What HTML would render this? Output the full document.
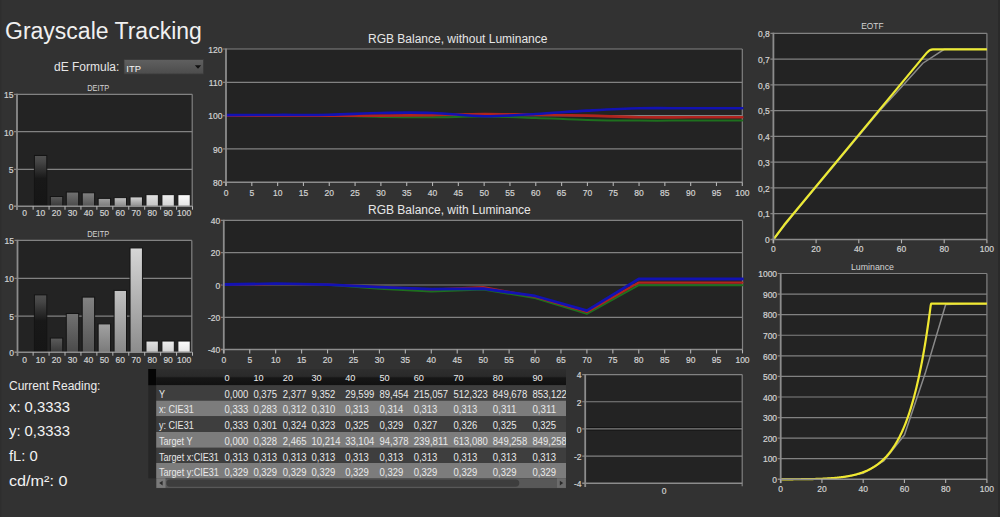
<!DOCTYPE html>
<html><head><meta charset="utf-8"><style>
html,body{margin:0;padding:0;background:#323232;width:1000px;height:517px;overflow:hidden}
svg{display:block;font-family:"Liberation Sans", sans-serif}
</style></head><body>
<svg width="1000" height="517" viewBox="0 0 1000 517">
<rect width="1000" height="517" fill="#323232"/>
<text x="5.00" y="39.00" font-size="23" text-anchor="start" fill="#f0f0f0" >Grayscale Tracking</text>
<text x="54.00" y="71.00" font-size="12" text-anchor="start" fill="#e6e6e6" >dE Formula:</text>
<defs><linearGradient id="dd" x1="0" y1="0" x2="0" y2="1"><stop offset="0" stop-color="#606060"/><stop offset="1" stop-color="#4c4c4c"/></linearGradient></defs>
<rect x="124.00" y="59.60" width="79.50" height="14.40" fill="url(#dd)" stroke="#3a3a3a" stroke-width="0.8"/>
<text x="126.30" y="71.60" font-size="9.4" text-anchor="start" fill="#f4f4f4" >ITP</text>
<path d="M194.8,65.3 L201.2,65.3 L198,68.8 Z" fill="#111"/>
<text transform="translate(98.20,90.80) scale(0.83,1)" font-size="9" text-anchor="middle" fill="#d2d2d2" >DEITP</text>
<rect x="17.00" y="94.30" width="175.20" height="111.90" fill="#232323" />
<line x1="14.00" y1="94.30" x2="192.20" y2="94.30" stroke="#828282" stroke-width="1.2"/>
<line x1="14.00" y1="131.70" x2="192.20" y2="131.70" stroke="#828282" stroke-width="1.2"/>
<line x1="14.00" y1="169.30" x2="192.20" y2="169.30" stroke="#828282" stroke-width="1.2"/>
<line x1="192.20" y1="94.30" x2="192.20" y2="206.20" stroke="#828282" stroke-width="1.2"/>
<text transform="translate(13.40,98.15) scale(0.86,1)" font-size="9.9" text-anchor="end" fill="#d2d2d2" stroke="#d2d2d2" stroke-width="0.22">15</text>
<text transform="translate(13.40,135.55) scale(0.86,1)" font-size="9.9" text-anchor="end" fill="#d2d2d2" stroke="#d2d2d2" stroke-width="0.22">10</text>
<text transform="translate(13.40,173.15) scale(0.86,1)" font-size="9.9" text-anchor="end" fill="#d2d2d2" stroke="#d2d2d2" stroke-width="0.22">5</text>
<text transform="translate(13.40,210.05) scale(0.86,1)" font-size="9.9" text-anchor="end" fill="#d2d2d2" stroke="#d2d2d2" stroke-width="0.22">0</text>
<defs><linearGradient id="g94_1" x1="0" y1="0" x2="0" y2="1"><stop offset="0" stop-color="rgb(80,80,80)"/><stop offset="0.12" stop-color="rgb(70,70,70)"/><stop offset="0.45" stop-color="rgb(24,24,24)"/><stop offset="1" stop-color="rgb(22,22,22)"/></linearGradient></defs>
<rect x="34.40" y="155.47" width="12.40" height="51.03" fill="url(#g94_1)" stroke="#141414" stroke-width="1"/>
<defs><linearGradient id="g94_2" x1="0" y1="0" x2="0" y2="1"><stop offset="0" stop-color="rgb(92,92,92)"/><stop offset="1" stop-color="rgb(56,56,56)"/></linearGradient></defs>
<rect x="50.34" y="196.50" width="12.40" height="10.00" fill="url(#g94_2)" stroke="#141414" stroke-width="1"/>
<defs><linearGradient id="g94_3" x1="0" y1="0" x2="0" y2="1"><stop offset="0" stop-color="rgb(114,114,114)"/><stop offset="1" stop-color="rgb(74,74,74)"/></linearGradient></defs>
<rect x="66.28" y="192.03" width="12.40" height="14.47" fill="url(#g94_3)" stroke="#141414" stroke-width="1"/>
<defs><linearGradient id="g94_4" x1="0" y1="0" x2="0" y2="1"><stop offset="0" stop-color="rgb(130,130,130)"/><stop offset="1" stop-color="rgb(84,84,84)"/></linearGradient></defs>
<rect x="82.22" y="192.77" width="12.40" height="13.73" fill="url(#g94_4)" stroke="#141414" stroke-width="1"/>
<defs><linearGradient id="g94_5" x1="0" y1="0" x2="0" y2="1"><stop offset="0" stop-color="rgb(162,162,162)"/><stop offset="1" stop-color="rgb(122,122,122)"/></linearGradient></defs>
<rect x="98.16" y="198.37" width="12.40" height="8.13" fill="url(#g94_5)" stroke="#141414" stroke-width="1"/>
<defs><linearGradient id="g94_6" x1="0" y1="0" x2="0" y2="1"><stop offset="0" stop-color="rgb(194,194,194)"/><stop offset="1" stop-color="rgb(136,136,136)"/></linearGradient></defs>
<rect x="114.10" y="197.62" width="12.40" height="8.88" fill="url(#g94_6)" stroke="#141414" stroke-width="1"/>
<defs><linearGradient id="g94_7" x1="0" y1="0" x2="0" y2="1"><stop offset="0" stop-color="rgb(214,214,214)"/><stop offset="1" stop-color="rgb(140,140,140)"/></linearGradient></defs>
<rect x="130.04" y="196.88" width="12.40" height="9.62" fill="url(#g94_7)" stroke="#141414" stroke-width="1"/>
<defs><linearGradient id="g94_8" x1="0" y1="0" x2="0" y2="1"><stop offset="0" stop-color="rgb(226,226,226)"/><stop offset="1" stop-color="rgb(196,196,196)"/></linearGradient></defs>
<rect x="145.98" y="194.64" width="12.40" height="11.86" fill="url(#g94_8)" stroke="#141414" stroke-width="1"/>
<defs><linearGradient id="g94_9" x1="0" y1="0" x2="0" y2="1"><stop offset="0" stop-color="rgb(238,238,238)"/><stop offset="1" stop-color="rgb(210,210,210)"/></linearGradient></defs>
<rect x="161.92" y="194.64" width="12.40" height="11.86" fill="url(#g94_9)" stroke="#141414" stroke-width="1"/>
<defs><linearGradient id="g94_10" x1="0" y1="0" x2="0" y2="1"><stop offset="0" stop-color="rgb(252,252,252)"/><stop offset="1" stop-color="rgb(228,228,228)"/></linearGradient></defs>
<rect x="177.86" y="194.64" width="12.40" height="11.86" fill="url(#g94_10)" stroke="#141414" stroke-width="1"/>
<line x1="17.00" y1="93.70" x2="17.00" y2="210.00" stroke="#8c8c8c" stroke-width="1.8"/>
<line x1="14.00" y1="206.20" x2="192.20" y2="206.20" stroke="#8c8c8c" stroke-width="1.5"/>
<line x1="33.13" y1="206.20" x2="33.13" y2="209.70" stroke="#bbb" stroke-width="1"/>
<line x1="49.07" y1="206.20" x2="49.07" y2="209.70" stroke="#bbb" stroke-width="1"/>
<line x1="65.01" y1="206.20" x2="65.01" y2="209.70" stroke="#bbb" stroke-width="1"/>
<line x1="80.95" y1="206.20" x2="80.95" y2="209.70" stroke="#bbb" stroke-width="1"/>
<line x1="96.89" y1="206.20" x2="96.89" y2="209.70" stroke="#bbb" stroke-width="1"/>
<line x1="112.83" y1="206.20" x2="112.83" y2="209.70" stroke="#bbb" stroke-width="1"/>
<line x1="128.77" y1="206.20" x2="128.77" y2="209.70" stroke="#bbb" stroke-width="1"/>
<line x1="144.71" y1="206.20" x2="144.71" y2="209.70" stroke="#bbb" stroke-width="1"/>
<line x1="160.65" y1="206.20" x2="160.65" y2="209.70" stroke="#bbb" stroke-width="1"/>
<line x1="176.59" y1="206.20" x2="176.59" y2="209.70" stroke="#bbb" stroke-width="1"/>
<line x1="192.53" y1="206.20" x2="192.53" y2="209.70" stroke="#bbb" stroke-width="1"/>
<text transform="translate(24.66,216.40) scale(0.86,1)" font-size="9.9" text-anchor="middle" fill="#d2d2d2" stroke="#d2d2d2" stroke-width="0.22">0</text>
<text transform="translate(40.60,216.40) scale(0.86,1)" font-size="9.9" text-anchor="middle" fill="#d2d2d2" stroke="#d2d2d2" stroke-width="0.22">10</text>
<text transform="translate(56.54,216.40) scale(0.86,1)" font-size="9.9" text-anchor="middle" fill="#d2d2d2" stroke="#d2d2d2" stroke-width="0.22">20</text>
<text transform="translate(72.48,216.40) scale(0.86,1)" font-size="9.9" text-anchor="middle" fill="#d2d2d2" stroke="#d2d2d2" stroke-width="0.22">30</text>
<text transform="translate(88.42,216.40) scale(0.86,1)" font-size="9.9" text-anchor="middle" fill="#d2d2d2" stroke="#d2d2d2" stroke-width="0.22">40</text>
<text transform="translate(104.36,216.40) scale(0.86,1)" font-size="9.9" text-anchor="middle" fill="#d2d2d2" stroke="#d2d2d2" stroke-width="0.22">50</text>
<text transform="translate(120.30,216.40) scale(0.86,1)" font-size="9.9" text-anchor="middle" fill="#d2d2d2" stroke="#d2d2d2" stroke-width="0.22">60</text>
<text transform="translate(136.24,216.40) scale(0.86,1)" font-size="9.9" text-anchor="middle" fill="#d2d2d2" stroke="#d2d2d2" stroke-width="0.22">70</text>
<text transform="translate(152.18,216.40) scale(0.86,1)" font-size="9.9" text-anchor="middle" fill="#d2d2d2" stroke="#d2d2d2" stroke-width="0.22">80</text>
<text transform="translate(168.12,216.40) scale(0.86,1)" font-size="9.9" text-anchor="middle" fill="#d2d2d2" stroke="#d2d2d2" stroke-width="0.22">90</text>
<text transform="translate(184.06,216.40) scale(0.86,1)" font-size="9.9" text-anchor="middle" fill="#d2d2d2" stroke="#d2d2d2" stroke-width="0.22">100</text>
<text transform="translate(98.20,237.40) scale(0.83,1)" font-size="9" text-anchor="middle" fill="#d2d2d2" >DEITP</text>
<rect x="17.50" y="240.50" width="174.30" height="111.70" fill="#232323" />
<line x1="14.50" y1="240.40" x2="191.80" y2="240.40" stroke="#828282" stroke-width="1.2"/>
<line x1="14.50" y1="278.40" x2="191.80" y2="278.40" stroke="#828282" stroke-width="1.2"/>
<line x1="14.50" y1="316.20" x2="191.80" y2="316.20" stroke="#828282" stroke-width="1.2"/>
<line x1="191.80" y1="240.50" x2="191.80" y2="352.20" stroke="#828282" stroke-width="1.2"/>
<text transform="translate(13.90,244.25) scale(0.86,1)" font-size="9.9" text-anchor="end" fill="#d2d2d2" stroke="#d2d2d2" stroke-width="0.22">15</text>
<text transform="translate(13.90,282.25) scale(0.86,1)" font-size="9.9" text-anchor="end" fill="#d2d2d2" stroke="#d2d2d2" stroke-width="0.22">10</text>
<text transform="translate(13.90,320.05) scale(0.86,1)" font-size="9.9" text-anchor="end" fill="#d2d2d2" stroke="#d2d2d2" stroke-width="0.22">5</text>
<text transform="translate(13.90,356.05) scale(0.86,1)" font-size="9.9" text-anchor="end" fill="#d2d2d2" stroke="#d2d2d2" stroke-width="0.22">0</text>
<defs><linearGradient id="g240_1" x1="0" y1="0" x2="0" y2="1"><stop offset="0" stop-color="rgb(80,80,80)"/><stop offset="0.12" stop-color="rgb(70,70,70)"/><stop offset="0.45" stop-color="rgb(24,24,24)"/><stop offset="1" stop-color="rgb(22,22,22)"/></linearGradient></defs>
<rect x="34.40" y="294.86" width="12.40" height="57.64" fill="url(#g240_1)" stroke="#141414" stroke-width="1"/>
<defs><linearGradient id="g240_2" x1="0" y1="0" x2="0" y2="1"><stop offset="0" stop-color="rgb(92,92,92)"/><stop offset="1" stop-color="rgb(56,56,56)"/></linearGradient></defs>
<rect x="50.34" y="338.05" width="12.40" height="14.45" fill="url(#g240_2)" stroke="#141414" stroke-width="1"/>
<defs><linearGradient id="g240_3" x1="0" y1="0" x2="0" y2="1"><stop offset="0" stop-color="rgb(114,114,114)"/><stop offset="1" stop-color="rgb(74,74,74)"/></linearGradient></defs>
<rect x="66.28" y="313.48" width="12.40" height="39.02" fill="url(#g240_3)" stroke="#141414" stroke-width="1"/>
<defs><linearGradient id="g240_4" x1="0" y1="0" x2="0" y2="1"><stop offset="0" stop-color="rgb(130,130,130)"/><stop offset="1" stop-color="rgb(84,84,84)"/></linearGradient></defs>
<rect x="82.22" y="297.09" width="12.40" height="55.41" fill="url(#g240_4)" stroke="#141414" stroke-width="1"/>
<defs><linearGradient id="g240_5" x1="0" y1="0" x2="0" y2="1"><stop offset="0" stop-color="rgb(162,162,162)"/><stop offset="1" stop-color="rgb(122,122,122)"/></linearGradient></defs>
<rect x="98.16" y="323.90" width="12.40" height="28.60" fill="url(#g240_5)" stroke="#141414" stroke-width="1"/>
<defs><linearGradient id="g240_6" x1="0" y1="0" x2="0" y2="1"><stop offset="0" stop-color="rgb(194,194,194)"/><stop offset="1" stop-color="rgb(136,136,136)"/></linearGradient></defs>
<rect x="114.10" y="290.39" width="12.40" height="62.11" fill="url(#g240_6)" stroke="#141414" stroke-width="1"/>
<defs><linearGradient id="g240_7" x1="0" y1="0" x2="0" y2="1"><stop offset="0" stop-color="rgb(214,214,214)"/><stop offset="1" stop-color="rgb(140,140,140)"/></linearGradient></defs>
<rect x="130.04" y="247.95" width="12.40" height="104.55" fill="url(#g240_7)" stroke="#141414" stroke-width="1"/>
<defs><linearGradient id="g240_8" x1="0" y1="0" x2="0" y2="1"><stop offset="0" stop-color="rgb(226,226,226)"/><stop offset="1" stop-color="rgb(196,196,196)"/></linearGradient></defs>
<rect x="145.98" y="341.03" width="12.40" height="11.47" fill="url(#g240_8)" stroke="#141414" stroke-width="1"/>
<defs><linearGradient id="g240_9" x1="0" y1="0" x2="0" y2="1"><stop offset="0" stop-color="rgb(238,238,238)"/><stop offset="1" stop-color="rgb(210,210,210)"/></linearGradient></defs>
<rect x="161.92" y="341.03" width="12.40" height="11.47" fill="url(#g240_9)" stroke="#141414" stroke-width="1"/>
<defs><linearGradient id="g240_10" x1="0" y1="0" x2="0" y2="1"><stop offset="0" stop-color="rgb(252,252,252)"/><stop offset="1" stop-color="rgb(228,228,228)"/></linearGradient></defs>
<rect x="177.86" y="341.03" width="12.40" height="11.47" fill="url(#g240_10)" stroke="#141414" stroke-width="1"/>
<line x1="17.50" y1="239.90" x2="17.50" y2="356.00" stroke="#8c8c8c" stroke-width="1.8"/>
<line x1="14.50" y1="352.20" x2="191.80" y2="352.20" stroke="#8c8c8c" stroke-width="1.5"/>
<line x1="33.13" y1="352.20" x2="33.13" y2="355.70" stroke="#bbb" stroke-width="1"/>
<line x1="49.07" y1="352.20" x2="49.07" y2="355.70" stroke="#bbb" stroke-width="1"/>
<line x1="65.01" y1="352.20" x2="65.01" y2="355.70" stroke="#bbb" stroke-width="1"/>
<line x1="80.95" y1="352.20" x2="80.95" y2="355.70" stroke="#bbb" stroke-width="1"/>
<line x1="96.89" y1="352.20" x2="96.89" y2="355.70" stroke="#bbb" stroke-width="1"/>
<line x1="112.83" y1="352.20" x2="112.83" y2="355.70" stroke="#bbb" stroke-width="1"/>
<line x1="128.77" y1="352.20" x2="128.77" y2="355.70" stroke="#bbb" stroke-width="1"/>
<line x1="144.71" y1="352.20" x2="144.71" y2="355.70" stroke="#bbb" stroke-width="1"/>
<line x1="160.65" y1="352.20" x2="160.65" y2="355.70" stroke="#bbb" stroke-width="1"/>
<line x1="176.59" y1="352.20" x2="176.59" y2="355.70" stroke="#bbb" stroke-width="1"/>
<line x1="192.53" y1="352.20" x2="192.53" y2="355.70" stroke="#bbb" stroke-width="1"/>
<text transform="translate(24.66,362.60) scale(0.86,1)" font-size="9.9" text-anchor="middle" fill="#d2d2d2" stroke="#d2d2d2" stroke-width="0.22">0</text>
<text transform="translate(40.60,362.60) scale(0.86,1)" font-size="9.9" text-anchor="middle" fill="#d2d2d2" stroke="#d2d2d2" stroke-width="0.22">10</text>
<text transform="translate(56.54,362.60) scale(0.86,1)" font-size="9.9" text-anchor="middle" fill="#d2d2d2" stroke="#d2d2d2" stroke-width="0.22">20</text>
<text transform="translate(72.48,362.60) scale(0.86,1)" font-size="9.9" text-anchor="middle" fill="#d2d2d2" stroke="#d2d2d2" stroke-width="0.22">30</text>
<text transform="translate(88.42,362.60) scale(0.86,1)" font-size="9.9" text-anchor="middle" fill="#d2d2d2" stroke="#d2d2d2" stroke-width="0.22">40</text>
<text transform="translate(104.36,362.60) scale(0.86,1)" font-size="9.9" text-anchor="middle" fill="#d2d2d2" stroke="#d2d2d2" stroke-width="0.22">50</text>
<text transform="translate(120.30,362.60) scale(0.86,1)" font-size="9.9" text-anchor="middle" fill="#d2d2d2" stroke="#d2d2d2" stroke-width="0.22">60</text>
<text transform="translate(136.24,362.60) scale(0.86,1)" font-size="9.9" text-anchor="middle" fill="#d2d2d2" stroke="#d2d2d2" stroke-width="0.22">70</text>
<text transform="translate(152.18,362.60) scale(0.86,1)" font-size="9.9" text-anchor="middle" fill="#d2d2d2" stroke="#d2d2d2" stroke-width="0.22">80</text>
<text transform="translate(168.12,362.60) scale(0.86,1)" font-size="9.9" text-anchor="middle" fill="#d2d2d2" stroke="#d2d2d2" stroke-width="0.22">90</text>
<text transform="translate(184.06,362.60) scale(0.86,1)" font-size="9.9" text-anchor="middle" fill="#d2d2d2" stroke="#d2d2d2" stroke-width="0.22">100</text>
<text x="368.00" y="42.90" font-size="12" text-anchor="start" fill="#e6e6e6" >RGB Balance, without Luminance</text>
<rect x="226.00" y="49.00" width="516.30" height="133.20" fill="#232323" />
<line x1="223.00" y1="49.00" x2="742.30" y2="49.00" stroke="#828282" stroke-width="1.2"/>
<line x1="223.00" y1="82.30" x2="742.30" y2="82.30" stroke="#828282" stroke-width="1.2"/>
<line x1="223.00" y1="115.60" x2="742.30" y2="115.60" stroke="#828282" stroke-width="1.2"/>
<line x1="223.00" y1="148.90" x2="742.30" y2="148.90" stroke="#828282" stroke-width="1.2"/>
<text transform="translate(222.40,52.75) scale(0.86,1)" font-size="9.9" text-anchor="end" fill="#d2d2d2" stroke="#d2d2d2" stroke-width="0.22">120</text>
<text transform="translate(222.40,86.05) scale(0.86,1)" font-size="9.9" text-anchor="end" fill="#d2d2d2" stroke="#d2d2d2" stroke-width="0.22">110</text>
<text transform="translate(222.40,119.35) scale(0.86,1)" font-size="9.9" text-anchor="end" fill="#d2d2d2" stroke="#d2d2d2" stroke-width="0.22">100</text>
<text transform="translate(222.40,152.65) scale(0.86,1)" font-size="9.9" text-anchor="end" fill="#d2d2d2" stroke="#d2d2d2" stroke-width="0.22">90</text>
<text transform="translate(222.40,185.95) scale(0.86,1)" font-size="9.9" text-anchor="end" fill="#d2d2d2" stroke="#d2d2d2" stroke-width="0.22">80</text>
<line x1="742.30" y1="49.00" x2="742.30" y2="182.20" stroke="#828282" stroke-width="1.2"/>
<path d="M226.00,115.60 C234.60,115.60 260.42,115.57 277.63,115.60 C294.84,115.63 312.05,115.54 329.26,115.77 C346.47,115.99 363.68,116.68 380.89,116.93 C398.10,117.18 415.31,117.32 432.52,117.27 C449.73,117.21 466.94,116.49 484.15,116.60 C501.36,116.71 518.57,117.38 535.78,117.93 C552.99,118.49 570.20,119.48 587.41,119.93 C604.62,120.37 621.83,120.48 639.04,120.59 C656.25,120.71 673.46,120.59 690.67,120.59 C707.88,120.59 733.69,120.59 742.30,120.59" fill="none" stroke="rgb(30,112,30)" stroke-width="2" stroke-linejoin="round" stroke-linecap="round"/>
<path d="M226.00,115.60 C234.60,115.60 260.42,115.60 277.63,115.60 C294.84,115.60 312.05,115.60 329.26,115.60 C346.47,115.60 363.68,115.68 380.89,115.60 C398.10,115.52 415.31,115.38 432.52,115.10 C449.73,114.82 466.94,113.99 484.15,113.93 C501.36,113.88 518.57,114.49 535.78,114.77 C552.99,115.05 570.20,115.18 587.41,115.60 C604.62,116.02 621.83,116.99 639.04,117.27 C656.25,117.54 673.46,117.27 690.67,117.27 C707.88,117.27 733.69,117.27 742.30,117.27" fill="none" stroke="rgb(176,36,30)" stroke-width="2.6" stroke-linejoin="round" stroke-linecap="round"/>
<path d="M226.00,115.10 C234.60,115.07 260.42,114.99 277.63,114.93 C294.84,114.88 312.05,115.10 329.26,114.77 C346.47,114.43 363.68,113.24 380.89,112.94 C398.10,112.63 415.31,112.38 432.52,112.94 C449.73,113.49 466.94,116.10 484.15,116.27 C501.36,116.43 518.57,114.88 535.78,113.93 C552.99,112.99 570.20,111.55 587.41,110.60 C604.62,109.66 621.83,108.66 639.04,108.27 C656.25,107.89 673.46,108.27 690.67,108.27 C707.88,108.27 733.69,108.27 742.30,108.27" fill="none" stroke="rgb(18,18,178)" stroke-width="2.6" stroke-linejoin="round" stroke-linecap="round"/>
<line x1="226.00" y1="48.40" x2="226.00" y2="186.00" stroke="#8c8c8c" stroke-width="1.8"/>
<line x1="223.00" y1="182.20" x2="742.30" y2="182.20" stroke="#8c8c8c" stroke-width="1.5"/>
<line x1="226.00" y1="182.20" x2="226.00" y2="186.00" stroke="#b4b4b4" stroke-width="1.1"/>
<text transform="translate(226.00,195.50) scale(0.86,1)" font-size="9.9" text-anchor="middle" fill="#d2d2d2" stroke="#d2d2d2" stroke-width="0.22">0</text>
<line x1="251.81" y1="182.20" x2="251.81" y2="186.00" stroke="#b4b4b4" stroke-width="1.1"/>
<text transform="translate(251.81,195.50) scale(0.86,1)" font-size="9.9" text-anchor="middle" fill="#d2d2d2" stroke="#d2d2d2" stroke-width="0.22">5</text>
<line x1="277.63" y1="182.20" x2="277.63" y2="186.00" stroke="#b4b4b4" stroke-width="1.1"/>
<text transform="translate(277.63,195.50) scale(0.86,1)" font-size="9.9" text-anchor="middle" fill="#d2d2d2" stroke="#d2d2d2" stroke-width="0.22">10</text>
<line x1="303.44" y1="182.20" x2="303.44" y2="186.00" stroke="#b4b4b4" stroke-width="1.1"/>
<text transform="translate(303.44,195.50) scale(0.86,1)" font-size="9.9" text-anchor="middle" fill="#d2d2d2" stroke="#d2d2d2" stroke-width="0.22">15</text>
<line x1="329.26" y1="182.20" x2="329.26" y2="186.00" stroke="#b4b4b4" stroke-width="1.1"/>
<text transform="translate(329.26,195.50) scale(0.86,1)" font-size="9.9" text-anchor="middle" fill="#d2d2d2" stroke="#d2d2d2" stroke-width="0.22">20</text>
<line x1="355.07" y1="182.20" x2="355.07" y2="186.00" stroke="#b4b4b4" stroke-width="1.1"/>
<text transform="translate(355.07,195.50) scale(0.86,1)" font-size="9.9" text-anchor="middle" fill="#d2d2d2" stroke="#d2d2d2" stroke-width="0.22">25</text>
<line x1="380.89" y1="182.20" x2="380.89" y2="186.00" stroke="#b4b4b4" stroke-width="1.1"/>
<text transform="translate(380.89,195.50) scale(0.86,1)" font-size="9.9" text-anchor="middle" fill="#d2d2d2" stroke="#d2d2d2" stroke-width="0.22">30</text>
<line x1="406.71" y1="182.20" x2="406.71" y2="186.00" stroke="#b4b4b4" stroke-width="1.1"/>
<text transform="translate(406.71,195.50) scale(0.86,1)" font-size="9.9" text-anchor="middle" fill="#d2d2d2" stroke="#d2d2d2" stroke-width="0.22">35</text>
<line x1="432.52" y1="182.20" x2="432.52" y2="186.00" stroke="#b4b4b4" stroke-width="1.1"/>
<text transform="translate(432.52,195.50) scale(0.86,1)" font-size="9.9" text-anchor="middle" fill="#d2d2d2" stroke="#d2d2d2" stroke-width="0.22">40</text>
<line x1="458.33" y1="182.20" x2="458.33" y2="186.00" stroke="#b4b4b4" stroke-width="1.1"/>
<text transform="translate(458.33,195.50) scale(0.86,1)" font-size="9.9" text-anchor="middle" fill="#d2d2d2" stroke="#d2d2d2" stroke-width="0.22">45</text>
<line x1="484.15" y1="182.20" x2="484.15" y2="186.00" stroke="#b4b4b4" stroke-width="1.1"/>
<text transform="translate(484.15,195.50) scale(0.86,1)" font-size="9.9" text-anchor="middle" fill="#d2d2d2" stroke="#d2d2d2" stroke-width="0.22">50</text>
<line x1="509.96" y1="182.20" x2="509.96" y2="186.00" stroke="#b4b4b4" stroke-width="1.1"/>
<text transform="translate(509.96,195.50) scale(0.86,1)" font-size="9.9" text-anchor="middle" fill="#d2d2d2" stroke="#d2d2d2" stroke-width="0.22">55</text>
<line x1="535.78" y1="182.20" x2="535.78" y2="186.00" stroke="#b4b4b4" stroke-width="1.1"/>
<text transform="translate(535.78,195.50) scale(0.86,1)" font-size="9.9" text-anchor="middle" fill="#d2d2d2" stroke="#d2d2d2" stroke-width="0.22">60</text>
<line x1="561.60" y1="182.20" x2="561.60" y2="186.00" stroke="#b4b4b4" stroke-width="1.1"/>
<text transform="translate(561.60,195.50) scale(0.86,1)" font-size="9.9" text-anchor="middle" fill="#d2d2d2" stroke="#d2d2d2" stroke-width="0.22">65</text>
<line x1="587.41" y1="182.20" x2="587.41" y2="186.00" stroke="#b4b4b4" stroke-width="1.1"/>
<text transform="translate(587.41,195.50) scale(0.86,1)" font-size="9.9" text-anchor="middle" fill="#d2d2d2" stroke="#d2d2d2" stroke-width="0.22">70</text>
<line x1="613.23" y1="182.20" x2="613.23" y2="186.00" stroke="#b4b4b4" stroke-width="1.1"/>
<text transform="translate(613.23,195.50) scale(0.86,1)" font-size="9.9" text-anchor="middle" fill="#d2d2d2" stroke="#d2d2d2" stroke-width="0.22">75</text>
<line x1="639.04" y1="182.20" x2="639.04" y2="186.00" stroke="#b4b4b4" stroke-width="1.1"/>
<text transform="translate(639.04,195.50) scale(0.86,1)" font-size="9.9" text-anchor="middle" fill="#d2d2d2" stroke="#d2d2d2" stroke-width="0.22">80</text>
<line x1="664.85" y1="182.20" x2="664.85" y2="186.00" stroke="#b4b4b4" stroke-width="1.1"/>
<text transform="translate(664.85,195.50) scale(0.86,1)" font-size="9.9" text-anchor="middle" fill="#d2d2d2" stroke="#d2d2d2" stroke-width="0.22">85</text>
<line x1="690.67" y1="182.20" x2="690.67" y2="186.00" stroke="#b4b4b4" stroke-width="1.1"/>
<text transform="translate(690.67,195.50) scale(0.86,1)" font-size="9.9" text-anchor="middle" fill="#d2d2d2" stroke="#d2d2d2" stroke-width="0.22">90</text>
<line x1="716.48" y1="182.20" x2="716.48" y2="186.00" stroke="#b4b4b4" stroke-width="1.1"/>
<text transform="translate(716.48,195.50) scale(0.86,1)" font-size="9.9" text-anchor="middle" fill="#d2d2d2" stroke="#d2d2d2" stroke-width="0.22">95</text>
<line x1="742.30" y1="182.20" x2="742.30" y2="186.00" stroke="#b4b4b4" stroke-width="1.1"/>
<text transform="translate(742.30,195.50) scale(0.86,1)" font-size="9.9" text-anchor="middle" fill="#d2d2d2" stroke="#d2d2d2" stroke-width="0.22">100</text>
<text x="368.00" y="213.90" font-size="12" text-anchor="start" fill="#e6e6e6" >RGB Balance, with Luminance</text>
<rect x="223.80" y="220.40" width="518.70" height="129.20" fill="#232323" />
<line x1="220.80" y1="220.40" x2="742.50" y2="220.40" stroke="#828282" stroke-width="1.2"/>
<line x1="220.80" y1="252.70" x2="742.50" y2="252.70" stroke="#828282" stroke-width="1.2"/>
<line x1="220.80" y1="285.00" x2="742.50" y2="285.00" stroke="#828282" stroke-width="1.2"/>
<line x1="220.80" y1="317.30" x2="742.50" y2="317.30" stroke="#828282" stroke-width="1.2"/>
<text transform="translate(220.20,224.15) scale(0.86,1)" font-size="9.9" text-anchor="end" fill="#d2d2d2" stroke="#d2d2d2" stroke-width="0.22">40</text>
<text transform="translate(220.20,256.45) scale(0.86,1)" font-size="9.9" text-anchor="end" fill="#d2d2d2" stroke="#d2d2d2" stroke-width="0.22">20</text>
<text transform="translate(220.20,288.75) scale(0.86,1)" font-size="9.9" text-anchor="end" fill="#d2d2d2" stroke="#d2d2d2" stroke-width="0.22">0</text>
<text transform="translate(220.20,321.05) scale(0.86,1)" font-size="9.9" text-anchor="end" fill="#d2d2d2" stroke="#d2d2d2" stroke-width="0.22">-20</text>
<text transform="translate(220.20,353.35) scale(0.86,1)" font-size="9.9" text-anchor="end" fill="#d2d2d2" stroke="#d2d2d2" stroke-width="0.22">-40</text>
<line x1="742.50" y1="220.40" x2="742.50" y2="349.60" stroke="#828282" stroke-width="1.2"/>
<path d="M223.80,285.00 L275.67,284.19 L327.54,284.68 L379.41,288.71 L431.28,291.46 L483.15,289.52 L535.02,297.92 L586.89,313.91 L638.76,285.16 L690.63,285.16 L742.50,285.16" fill="none" stroke="rgb(30,112,30)" stroke-width="2" stroke-linejoin="round" stroke-linecap="round"/>
<path d="M223.80,285.00 L275.67,284.19 L327.54,284.52 L379.41,286.94 L431.28,289.52 L483.15,287.10 L535.02,296.79 L586.89,311.97 L638.76,282.58 L690.63,282.58 L742.50,282.58" fill="none" stroke="rgb(176,36,30)" stroke-width="2.2" stroke-linejoin="round" stroke-linecap="round"/>
<path d="M223.80,284.52 L275.67,283.71 L327.54,284.68 L379.41,287.10 L431.28,289.04 L483.15,288.71 L535.02,295.98 L586.89,310.68 L638.76,279.02 L690.63,279.02 L742.50,279.02" fill="none" stroke="rgb(18,18,178)" stroke-width="2.8" stroke-linejoin="round" stroke-linecap="round"/>
<line x1="223.80" y1="219.80" x2="223.80" y2="353.40" stroke="#8c8c8c" stroke-width="1.8"/>
<line x1="220.80" y1="349.60" x2="742.50" y2="349.60" stroke="#8c8c8c" stroke-width="1.5"/>
<line x1="223.80" y1="349.60" x2="223.80" y2="353.40" stroke="#b4b4b4" stroke-width="1.1"/>
<text transform="translate(223.80,362.90) scale(0.86,1)" font-size="9.9" text-anchor="middle" fill="#d2d2d2" stroke="#d2d2d2" stroke-width="0.22">0</text>
<line x1="249.74" y1="349.60" x2="249.74" y2="353.40" stroke="#b4b4b4" stroke-width="1.1"/>
<text transform="translate(249.74,362.90) scale(0.86,1)" font-size="9.9" text-anchor="middle" fill="#d2d2d2" stroke="#d2d2d2" stroke-width="0.22">5</text>
<line x1="275.67" y1="349.60" x2="275.67" y2="353.40" stroke="#b4b4b4" stroke-width="1.1"/>
<text transform="translate(275.67,362.90) scale(0.86,1)" font-size="9.9" text-anchor="middle" fill="#d2d2d2" stroke="#d2d2d2" stroke-width="0.22">10</text>
<line x1="301.61" y1="349.60" x2="301.61" y2="353.40" stroke="#b4b4b4" stroke-width="1.1"/>
<text transform="translate(301.61,362.90) scale(0.86,1)" font-size="9.9" text-anchor="middle" fill="#d2d2d2" stroke="#d2d2d2" stroke-width="0.22">15</text>
<line x1="327.54" y1="349.60" x2="327.54" y2="353.40" stroke="#b4b4b4" stroke-width="1.1"/>
<text transform="translate(327.54,362.90) scale(0.86,1)" font-size="9.9" text-anchor="middle" fill="#d2d2d2" stroke="#d2d2d2" stroke-width="0.22">20</text>
<line x1="353.48" y1="349.60" x2="353.48" y2="353.40" stroke="#b4b4b4" stroke-width="1.1"/>
<text transform="translate(353.48,362.90) scale(0.86,1)" font-size="9.9" text-anchor="middle" fill="#d2d2d2" stroke="#d2d2d2" stroke-width="0.22">25</text>
<line x1="379.41" y1="349.60" x2="379.41" y2="353.40" stroke="#b4b4b4" stroke-width="1.1"/>
<text transform="translate(379.41,362.90) scale(0.86,1)" font-size="9.9" text-anchor="middle" fill="#d2d2d2" stroke="#d2d2d2" stroke-width="0.22">30</text>
<line x1="405.35" y1="349.60" x2="405.35" y2="353.40" stroke="#b4b4b4" stroke-width="1.1"/>
<text transform="translate(405.35,362.90) scale(0.86,1)" font-size="9.9" text-anchor="middle" fill="#d2d2d2" stroke="#d2d2d2" stroke-width="0.22">35</text>
<line x1="431.28" y1="349.60" x2="431.28" y2="353.40" stroke="#b4b4b4" stroke-width="1.1"/>
<text transform="translate(431.28,362.90) scale(0.86,1)" font-size="9.9" text-anchor="middle" fill="#d2d2d2" stroke="#d2d2d2" stroke-width="0.22">40</text>
<line x1="457.22" y1="349.60" x2="457.22" y2="353.40" stroke="#b4b4b4" stroke-width="1.1"/>
<text transform="translate(457.22,362.90) scale(0.86,1)" font-size="9.9" text-anchor="middle" fill="#d2d2d2" stroke="#d2d2d2" stroke-width="0.22">45</text>
<line x1="483.15" y1="349.60" x2="483.15" y2="353.40" stroke="#b4b4b4" stroke-width="1.1"/>
<text transform="translate(483.15,362.90) scale(0.86,1)" font-size="9.9" text-anchor="middle" fill="#d2d2d2" stroke="#d2d2d2" stroke-width="0.22">50</text>
<line x1="509.09" y1="349.60" x2="509.09" y2="353.40" stroke="#b4b4b4" stroke-width="1.1"/>
<text transform="translate(509.09,362.90) scale(0.86,1)" font-size="9.9" text-anchor="middle" fill="#d2d2d2" stroke="#d2d2d2" stroke-width="0.22">55</text>
<line x1="535.02" y1="349.60" x2="535.02" y2="353.40" stroke="#b4b4b4" stroke-width="1.1"/>
<text transform="translate(535.02,362.90) scale(0.86,1)" font-size="9.9" text-anchor="middle" fill="#d2d2d2" stroke="#d2d2d2" stroke-width="0.22">60</text>
<line x1="560.95" y1="349.60" x2="560.95" y2="353.40" stroke="#b4b4b4" stroke-width="1.1"/>
<text transform="translate(560.95,362.90) scale(0.86,1)" font-size="9.9" text-anchor="middle" fill="#d2d2d2" stroke="#d2d2d2" stroke-width="0.22">65</text>
<line x1="586.89" y1="349.60" x2="586.89" y2="353.40" stroke="#b4b4b4" stroke-width="1.1"/>
<text transform="translate(586.89,362.90) scale(0.86,1)" font-size="9.9" text-anchor="middle" fill="#d2d2d2" stroke="#d2d2d2" stroke-width="0.22">70</text>
<line x1="612.83" y1="349.60" x2="612.83" y2="353.40" stroke="#b4b4b4" stroke-width="1.1"/>
<text transform="translate(612.83,362.90) scale(0.86,1)" font-size="9.9" text-anchor="middle" fill="#d2d2d2" stroke="#d2d2d2" stroke-width="0.22">75</text>
<line x1="638.76" y1="349.60" x2="638.76" y2="353.40" stroke="#b4b4b4" stroke-width="1.1"/>
<text transform="translate(638.76,362.90) scale(0.86,1)" font-size="9.9" text-anchor="middle" fill="#d2d2d2" stroke="#d2d2d2" stroke-width="0.22">80</text>
<line x1="664.70" y1="349.60" x2="664.70" y2="353.40" stroke="#b4b4b4" stroke-width="1.1"/>
<text transform="translate(664.70,362.90) scale(0.86,1)" font-size="9.9" text-anchor="middle" fill="#d2d2d2" stroke="#d2d2d2" stroke-width="0.22">85</text>
<line x1="690.63" y1="349.60" x2="690.63" y2="353.40" stroke="#b4b4b4" stroke-width="1.1"/>
<text transform="translate(690.63,362.90) scale(0.86,1)" font-size="9.9" text-anchor="middle" fill="#d2d2d2" stroke="#d2d2d2" stroke-width="0.22">90</text>
<line x1="716.57" y1="349.60" x2="716.57" y2="353.40" stroke="#b4b4b4" stroke-width="1.1"/>
<text transform="translate(716.57,362.90) scale(0.86,1)" font-size="9.9" text-anchor="middle" fill="#d2d2d2" stroke="#d2d2d2" stroke-width="0.22">95</text>
<line x1="742.50" y1="349.60" x2="742.50" y2="353.40" stroke="#b4b4b4" stroke-width="1.1"/>
<text transform="translate(742.50,362.90) scale(0.86,1)" font-size="9.9" text-anchor="middle" fill="#d2d2d2" stroke="#d2d2d2" stroke-width="0.22">100</text>
<rect x="585.20" y="374.60" width="157.00" height="108.60" fill="#232323" />
<line x1="582.20" y1="374.60" x2="742.20" y2="374.60" stroke="#828282" stroke-width="1.2"/>
<text transform="translate(581.60,378.35) scale(0.86,1)" font-size="9.9" text-anchor="end" fill="#d2d2d2" stroke="#d2d2d2" stroke-width="0.22">4</text>
<line x1="582.20" y1="401.75" x2="742.20" y2="401.75" stroke="#828282" stroke-width="1.2"/>
<text transform="translate(581.60,405.50) scale(0.86,1)" font-size="9.9" text-anchor="end" fill="#d2d2d2" stroke="#d2d2d2" stroke-width="0.22">2</text>
<line x1="585.20" y1="428.90" x2="742.20" y2="428.90" stroke="#111" stroke-width="3.2"/>
<line x1="582.20" y1="428.90" x2="742.20" y2="428.90" stroke="#828282" stroke-width="1.2"/>
<text transform="translate(581.60,432.65) scale(0.86,1)" font-size="9.9" text-anchor="end" fill="#d2d2d2" stroke="#d2d2d2" stroke-width="0.22">0</text>
<line x1="582.20" y1="456.05" x2="742.20" y2="456.05" stroke="#828282" stroke-width="1.2"/>
<text transform="translate(581.60,459.80) scale(0.86,1)" font-size="9.9" text-anchor="end" fill="#d2d2d2" stroke="#d2d2d2" stroke-width="0.22">-2</text>
<text transform="translate(581.60,486.95) scale(0.86,1)" font-size="9.9" text-anchor="end" fill="#d2d2d2" stroke="#d2d2d2" stroke-width="0.22">-4</text>
<line x1="742.20" y1="374.60" x2="742.20" y2="486.20" stroke="#828282" stroke-width="1.2"/>
<line x1="585.20" y1="374.00" x2="585.20" y2="487.00" stroke="#8c8c8c" stroke-width="1.8"/>
<line x1="582.20" y1="483.20" x2="742.20" y2="483.20" stroke="#8c8c8c" stroke-width="1.5"/>
<text transform="translate(664.00,493.50) scale(0.86,1)" font-size="9.9" text-anchor="middle" fill="#d2d2d2" stroke="#d2d2d2" stroke-width="0.22">0</text>
<text x="872.40" y="28.60" font-size="8.4" text-anchor="middle" fill="#d2d2d2" >EOTF</text>
<rect x="773.40" y="33.30" width="213.50" height="206.20" fill="#232323" />
<text transform="translate(769.80,243.25) scale(0.86,1)" font-size="9.9" text-anchor="end" fill="#d2d2d2" stroke="#d2d2d2" stroke-width="0.22">0</text>
<line x1="770.40" y1="213.72" x2="986.90" y2="213.72" stroke="#828282" stroke-width="1.2"/>
<text transform="translate(769.80,217.47) scale(0.86,1)" font-size="9.9" text-anchor="end" fill="#d2d2d2" stroke="#d2d2d2" stroke-width="0.22">0,1</text>
<line x1="770.40" y1="187.95" x2="986.90" y2="187.95" stroke="#828282" stroke-width="1.2"/>
<text transform="translate(769.80,191.70) scale(0.86,1)" font-size="9.9" text-anchor="end" fill="#d2d2d2" stroke="#d2d2d2" stroke-width="0.22">0,2</text>
<line x1="770.40" y1="162.18" x2="986.90" y2="162.18" stroke="#828282" stroke-width="1.2"/>
<text transform="translate(769.80,165.93) scale(0.86,1)" font-size="9.9" text-anchor="end" fill="#d2d2d2" stroke="#d2d2d2" stroke-width="0.22">0,3</text>
<line x1="770.40" y1="136.40" x2="986.90" y2="136.40" stroke="#828282" stroke-width="1.2"/>
<text transform="translate(769.80,140.15) scale(0.86,1)" font-size="9.9" text-anchor="end" fill="#d2d2d2" stroke="#d2d2d2" stroke-width="0.22">0,4</text>
<line x1="770.40" y1="110.62" x2="986.90" y2="110.62" stroke="#828282" stroke-width="1.2"/>
<text transform="translate(769.80,114.38) scale(0.86,1)" font-size="9.9" text-anchor="end" fill="#d2d2d2" stroke="#d2d2d2" stroke-width="0.22">0,5</text>
<line x1="770.40" y1="84.85" x2="986.90" y2="84.85" stroke="#828282" stroke-width="1.2"/>
<text transform="translate(769.80,88.60) scale(0.86,1)" font-size="9.9" text-anchor="end" fill="#d2d2d2" stroke="#d2d2d2" stroke-width="0.22">0,6</text>
<line x1="770.40" y1="59.08" x2="986.90" y2="59.08" stroke="#828282" stroke-width="1.2"/>
<text transform="translate(769.80,62.83) scale(0.86,1)" font-size="9.9" text-anchor="end" fill="#d2d2d2" stroke="#d2d2d2" stroke-width="0.22">0,7</text>
<line x1="770.40" y1="33.30" x2="986.90" y2="33.30" stroke="#828282" stroke-width="1.2"/>
<text transform="translate(769.80,37.05) scale(0.86,1)" font-size="9.9" text-anchor="end" fill="#d2d2d2" stroke="#d2d2d2" stroke-width="0.22">0,8</text>
<line x1="986.90" y1="33.30" x2="986.90" y2="239.50" stroke="#828282" stroke-width="1.2"/>
<path d="M773.40,239.50 L794.75,212.69 L816.10,186.92 L837.45,161.40 L858.80,135.88 L880.15,110.37 L901.50,86.91 L922.85,63.20 L944.20,49.28 L965.55,49.28 L986.90,49.28" fill="none" stroke="#8a8a8a" stroke-width="1.5"/>
<path d="M773.40,239.50 L784.07,225.07 L926.48,53.15 Q929.68,49.28 932.88,49.28 L986.90,49.28" fill="none" stroke="#ecea34" stroke-width="2.2" stroke-linejoin="round"/>
<line x1="773.40" y1="32.70" x2="773.40" y2="243.30" stroke="#8c8c8c" stroke-width="1.8"/>
<line x1="770.40" y1="239.50" x2="986.90" y2="239.50" stroke="#8c8c8c" stroke-width="1.5"/>
<line x1="773.40" y1="239.50" x2="773.40" y2="243.30" stroke="#b4b4b4" stroke-width="1.1"/>
<text transform="translate(773.40,252.30) scale(0.86,1)" font-size="9.9" text-anchor="middle" fill="#d2d2d2" stroke="#d2d2d2" stroke-width="0.22">0</text>
<line x1="816.10" y1="239.50" x2="816.10" y2="243.30" stroke="#b4b4b4" stroke-width="1.1"/>
<text transform="translate(816.10,252.30) scale(0.86,1)" font-size="9.9" text-anchor="middle" fill="#d2d2d2" stroke="#d2d2d2" stroke-width="0.22">20</text>
<line x1="858.80" y1="239.50" x2="858.80" y2="243.30" stroke="#b4b4b4" stroke-width="1.1"/>
<text transform="translate(858.80,252.30) scale(0.86,1)" font-size="9.9" text-anchor="middle" fill="#d2d2d2" stroke="#d2d2d2" stroke-width="0.22">40</text>
<line x1="901.50" y1="239.50" x2="901.50" y2="243.30" stroke="#b4b4b4" stroke-width="1.1"/>
<text transform="translate(901.50,252.30) scale(0.86,1)" font-size="9.9" text-anchor="middle" fill="#d2d2d2" stroke="#d2d2d2" stroke-width="0.22">60</text>
<line x1="944.20" y1="239.50" x2="944.20" y2="243.30" stroke="#b4b4b4" stroke-width="1.1"/>
<text transform="translate(944.20,252.30) scale(0.86,1)" font-size="9.9" text-anchor="middle" fill="#d2d2d2" stroke="#d2d2d2" stroke-width="0.22">80</text>
<line x1="986.90" y1="239.50" x2="986.90" y2="243.30" stroke="#b4b4b4" stroke-width="1.1"/>
<text transform="translate(986.90,252.30) scale(0.86,1)" font-size="9.9" text-anchor="middle" fill="#d2d2d2" stroke="#d2d2d2" stroke-width="0.22">100</text>
<text x="872.50" y="269.60" font-size="8.8" text-anchor="middle" fill="#d2d2d2" >Luminance</text>
<rect x="780.70" y="273.50" width="206.20" height="205.80" fill="#232323" />
<text transform="translate(777.10,483.05) scale(0.86,1)" font-size="9.9" text-anchor="end" fill="#d2d2d2" stroke="#d2d2d2" stroke-width="0.22">0</text>
<line x1="777.70" y1="458.72" x2="986.90" y2="458.72" stroke="#828282" stroke-width="1.2"/>
<text transform="translate(777.10,462.47) scale(0.86,1)" font-size="9.9" text-anchor="end" fill="#d2d2d2" stroke="#d2d2d2" stroke-width="0.22">100</text>
<line x1="777.70" y1="438.14" x2="986.90" y2="438.14" stroke="#828282" stroke-width="1.2"/>
<text transform="translate(777.10,441.89) scale(0.86,1)" font-size="9.9" text-anchor="end" fill="#d2d2d2" stroke="#d2d2d2" stroke-width="0.22">200</text>
<line x1="777.70" y1="417.56" x2="986.90" y2="417.56" stroke="#828282" stroke-width="1.2"/>
<text transform="translate(777.10,421.31) scale(0.86,1)" font-size="9.9" text-anchor="end" fill="#d2d2d2" stroke="#d2d2d2" stroke-width="0.22">300</text>
<line x1="777.70" y1="396.98" x2="986.90" y2="396.98" stroke="#828282" stroke-width="1.2"/>
<text transform="translate(777.10,400.73) scale(0.86,1)" font-size="9.9" text-anchor="end" fill="#d2d2d2" stroke="#d2d2d2" stroke-width="0.22">400</text>
<line x1="777.70" y1="376.40" x2="986.90" y2="376.40" stroke="#828282" stroke-width="1.2"/>
<text transform="translate(777.10,380.15) scale(0.86,1)" font-size="9.9" text-anchor="end" fill="#d2d2d2" stroke="#d2d2d2" stroke-width="0.22">500</text>
<line x1="777.70" y1="355.82" x2="986.90" y2="355.82" stroke="#828282" stroke-width="1.2"/>
<text transform="translate(777.10,359.57) scale(0.86,1)" font-size="9.9" text-anchor="end" fill="#d2d2d2" stroke="#d2d2d2" stroke-width="0.22">600</text>
<line x1="777.70" y1="335.24" x2="986.90" y2="335.24" stroke="#828282" stroke-width="1.2"/>
<text transform="translate(777.10,338.99) scale(0.86,1)" font-size="9.9" text-anchor="end" fill="#d2d2d2" stroke="#d2d2d2" stroke-width="0.22">700</text>
<line x1="777.70" y1="314.66" x2="986.90" y2="314.66" stroke="#828282" stroke-width="1.2"/>
<text transform="translate(777.10,318.41) scale(0.86,1)" font-size="9.9" text-anchor="end" fill="#d2d2d2" stroke="#d2d2d2" stroke-width="0.22">800</text>
<line x1="777.70" y1="294.08" x2="986.90" y2="294.08" stroke="#828282" stroke-width="1.2"/>
<text transform="translate(777.10,297.83) scale(0.86,1)" font-size="9.9" text-anchor="end" fill="#d2d2d2" stroke="#d2d2d2" stroke-width="0.22">900</text>
<line x1="777.70" y1="273.50" x2="986.90" y2="273.50" stroke="#828282" stroke-width="1.2"/>
<text transform="translate(777.10,277.25) scale(0.86,1)" font-size="9.9" text-anchor="end" fill="#d2d2d2" stroke="#d2d2d2" stroke-width="0.22">1000</text>
<line x1="986.90" y1="273.50" x2="986.90" y2="479.30" stroke="#828282" stroke-width="1.2"/>
<path d="M780.70,479.30 L801.32,479.22 L821.94,478.81 L842.56,477.38 L863.18,473.21 L883.80,460.89 L904.42,435.04 L925.04,373.86 L945.66,304.44 L966.28,303.73 L986.90,303.73" fill="none" stroke="#8a8a8a" stroke-width="1.5"/>
<path d="M780.70,479.30 L781.22,479.30 L781.73,479.30 L782.25,479.30 L782.76,479.30 L783.28,479.30 L783.79,479.30 L784.31,479.30 L784.82,479.30 L785.34,479.30 L785.86,479.30 L786.37,479.30 L786.89,479.29 L787.40,479.29 L787.92,479.29 L788.43,479.29 L788.95,479.29 L789.46,479.29 L789.98,479.29 L790.49,479.29 L791.01,479.28 L791.53,479.28 L792.04,479.28 L792.56,479.28 L793.07,479.28 L793.59,479.27 L794.10,479.27 L794.62,479.27 L795.13,479.27 L795.65,479.26 L796.17,479.26 L796.68,479.26 L797.20,479.25 L797.71,479.25 L798.23,479.25 L798.74,479.24 L799.26,479.24 L799.77,479.24 L800.29,479.23 L800.80,479.23 L801.32,479.22 L801.84,479.22 L802.35,479.21 L802.87,479.21 L803.38,479.20 L803.90,479.19 L804.41,479.19 L804.93,479.18 L805.44,479.18 L805.96,479.17 L806.48,479.16 L806.99,479.15 L807.51,479.14 L808.02,479.14 L808.54,479.13 L809.05,479.12 L809.57,479.11 L810.08,479.10 L810.60,479.09 L811.11,479.08 L811.63,479.07 L812.15,479.06 L812.66,479.05 L813.18,479.03 L813.69,479.02 L814.21,479.01 L814.72,478.99 L815.24,478.98 L815.75,478.97 L816.27,478.95 L816.79,478.94 L817.30,478.92 L817.82,478.90 L818.33,478.89 L818.85,478.87 L819.36,478.85 L819.88,478.83 L820.39,478.81 L820.91,478.79 L821.42,478.77 L821.94,478.75 L822.46,478.73 L822.97,478.70 L823.49,478.68 L824.00,478.66 L824.52,478.63 L825.03,478.61 L825.55,478.58 L826.06,478.55 L826.58,478.52 L827.10,478.49 L827.61,478.46 L828.13,478.43 L828.64,478.40 L829.16,478.37 L829.67,478.33 L830.19,478.30 L830.70,478.26 L831.22,478.22 L831.73,478.19 L832.25,478.15 L832.77,478.11 L833.28,478.06 L833.80,478.02 L834.31,477.98 L834.83,477.93 L835.34,477.88 L835.86,477.84 L836.37,477.79 L836.89,477.74 L837.40,477.68 L837.92,477.63 L838.44,477.57 L838.95,477.52 L839.47,477.46 L839.98,477.40 L840.50,477.34 L841.01,477.27 L841.53,477.21 L842.04,477.14 L842.56,477.07 L843.08,477.00 L843.59,476.93 L844.11,476.85 L844.62,476.78 L845.14,476.70 L845.65,476.62 L846.17,476.53 L846.68,476.45 L847.20,476.36 L847.72,476.27 L848.23,476.18 L848.75,476.08 L849.26,475.99 L849.78,475.89 L850.29,475.79 L850.81,475.68 L851.32,475.57 L851.84,475.46 L852.35,475.35 L852.87,475.23 L853.39,475.11 L853.90,474.99 L854.42,474.86 L854.93,474.74 L855.45,474.60 L855.96,474.47 L856.48,474.33 L856.99,474.19 L857.51,474.04 L858.02,473.89 L858.54,473.74 L859.06,473.58 L859.57,473.42 L860.09,473.25 L860.60,473.08 L861.12,472.91 L861.63,472.73 L862.15,472.55 L862.66,472.36 L863.18,472.17 L863.70,471.97 L864.21,471.77 L864.73,471.57 L865.24,471.35 L865.76,471.14 L866.27,470.92 L866.79,470.69 L867.30,470.45 L867.82,470.22 L868.34,469.97 L868.85,469.72 L869.37,469.46 L869.88,469.20 L870.40,468.93 L870.91,468.66 L871.43,468.37 L871.94,468.08 L872.46,467.79 L872.97,467.48 L873.49,467.17 L874.01,466.86 L874.52,466.53 L875.04,466.20 L875.55,465.86 L876.07,465.51 L876.58,465.15 L877.10,464.78 L877.61,464.41 L878.13,464.02 L878.64,463.63 L879.16,463.22 L879.68,462.81 L880.19,462.39 L880.71,461.96 L881.22,461.52 L881.74,461.06 L882.25,460.60 L882.77,460.12 L883.28,459.64 L883.80,459.14 L884.32,458.63 L884.83,458.11 L885.35,457.58 L885.86,457.03 L886.38,456.48 L886.89,455.91 L887.41,455.32 L887.92,454.72 L888.44,454.11 L888.96,453.48 L889.47,452.84 L889.99,452.19 L890.50,451.51 L891.02,450.83 L891.53,450.12 L892.05,449.41 L892.56,448.67 L893.08,447.92 L893.59,447.15 L894.11,446.36 L894.63,445.55 L895.14,444.73 L895.66,443.88 L896.17,443.02 L896.69,442.13 L897.20,441.23 L897.72,440.30 L898.23,439.36 L898.75,438.39 L899.26,437.40 L899.78,436.38 L900.30,435.35 L900.81,434.29 L901.33,433.20 L901.84,432.09 L902.36,430.96 L902.87,429.79 L903.39,428.61 L903.90,427.39 L904.42,426.15 L904.94,424.87 L905.45,423.57 L905.97,422.24 L906.48,420.88 L907.00,419.48 L907.51,418.06 L908.03,416.60 L908.54,415.11 L909.06,413.58 L909.58,412.02 L910.09,410.43 L910.61,408.80 L911.12,407.13 L911.64,405.42 L912.15,403.67 L912.67,401.88 L913.18,400.05 L913.70,398.18 L914.21,396.27 L914.73,394.31 L915.25,392.31 L915.76,390.26 L916.28,388.17 L916.79,386.03 L917.31,383.84 L917.82,381.59 L918.34,379.30 L918.85,376.96 L919.37,374.56 L919.88,372.10 L920.40,369.59 L920.92,367.03 L921.43,364.40 L921.95,361.71 L922.46,358.97 L922.98,356.15 L923.49,353.28 L924.01,350.34 L924.52,347.33 L925.04,344.25 L925.56,341.10 L926.07,337.88 L926.59,334.59 L927.10,331.22 L927.62,327.77 L928.13,324.25 L928.65,320.64 L929.16,316.95 L929.68,313.18 L930.19,309.32 L930.71,305.37 L931.23,303.65 L931.74,303.65 L932.26,303.65 L932.77,303.65 L933.29,303.65 L933.80,303.65 L934.32,303.65 L934.83,303.65 L935.35,303.65 L935.87,303.65 L936.38,303.65 L936.90,303.65 L937.41,303.65 L937.93,303.65 L938.44,303.65 L938.96,303.65 L939.47,303.65 L939.99,303.65 L940.50,303.65 L941.02,303.65 L941.54,303.65 L942.05,303.65 L942.57,303.65 L943.08,303.65 L943.60,303.65 L944.11,303.65 L944.63,303.65 L945.14,303.65 L945.66,303.65 L946.18,303.65 L946.69,303.65 L947.21,303.65 L947.72,303.65 L948.24,303.65 L948.75,303.65 L949.27,303.65 L949.78,303.65 L950.30,303.65 L950.81,303.65 L951.33,303.65 L951.85,303.65 L952.36,303.65 L952.88,303.65 L953.39,303.65 L953.91,303.65 L954.42,303.65 L954.94,303.65 L955.45,303.65 L955.97,303.65 L956.49,303.65 L957.00,303.65 L957.52,303.65 L958.03,303.65 L958.55,303.65 L959.06,303.65 L959.58,303.65 L960.09,303.65 L960.61,303.65 L961.12,303.65 L961.64,303.65 L962.16,303.65 L962.67,303.65 L963.19,303.65 L963.70,303.65 L964.22,303.65 L964.73,303.65 L965.25,303.65 L965.76,303.65 L966.28,303.65 L966.80,303.65 L967.31,303.65 L967.83,303.65 L968.34,303.65 L968.86,303.65 L969.37,303.65 L969.89,303.65 L970.40,303.65 L970.92,303.65 L971.43,303.65 L971.95,303.65 L972.47,303.65 L972.98,303.65 L973.50,303.65 L974.01,303.65 L974.53,303.65 L975.04,303.65 L975.56,303.65 L976.07,303.65 L976.59,303.65 L977.11,303.65 L977.62,303.65 L978.14,303.65 L978.65,303.65 L979.17,303.65 L979.68,303.65 L980.20,303.65 L980.71,303.65 L981.23,303.65 L981.75,303.65 L982.26,303.65 L982.78,303.65 L983.29,303.65 L983.81,303.65 L984.32,303.65 L984.84,303.65 L985.35,303.65 L985.87,303.65 L986.38,303.65 L986.90,303.65" fill="none" stroke="#f0e830" stroke-width="2.2" stroke-linejoin="round"/>
<line x1="780.70" y1="272.90" x2="780.70" y2="483.10" stroke="#8c8c8c" stroke-width="1.8"/>
<line x1="777.70" y1="479.30" x2="986.90" y2="479.30" stroke="#8c8c8c" stroke-width="1.5"/>
<line x1="780.70" y1="479.30" x2="780.70" y2="483.10" stroke="#b4b4b4" stroke-width="1.1"/>
<text transform="translate(780.70,492.10) scale(0.86,1)" font-size="9.9" text-anchor="middle" fill="#d2d2d2" stroke="#d2d2d2" stroke-width="0.22">0</text>
<line x1="821.94" y1="479.30" x2="821.94" y2="483.10" stroke="#b4b4b4" stroke-width="1.1"/>
<text transform="translate(821.94,492.10) scale(0.86,1)" font-size="9.9" text-anchor="middle" fill="#d2d2d2" stroke="#d2d2d2" stroke-width="0.22">20</text>
<line x1="863.18" y1="479.30" x2="863.18" y2="483.10" stroke="#b4b4b4" stroke-width="1.1"/>
<text transform="translate(863.18,492.10) scale(0.86,1)" font-size="9.9" text-anchor="middle" fill="#d2d2d2" stroke="#d2d2d2" stroke-width="0.22">40</text>
<line x1="904.42" y1="479.30" x2="904.42" y2="483.10" stroke="#b4b4b4" stroke-width="1.1"/>
<text transform="translate(904.42,492.10) scale(0.86,1)" font-size="9.9" text-anchor="middle" fill="#d2d2d2" stroke="#d2d2d2" stroke-width="0.22">60</text>
<line x1="945.66" y1="479.30" x2="945.66" y2="483.10" stroke="#b4b4b4" stroke-width="1.1"/>
<text transform="translate(945.66,492.10) scale(0.86,1)" font-size="9.9" text-anchor="middle" fill="#d2d2d2" stroke="#d2d2d2" stroke-width="0.22">80</text>
<line x1="986.90" y1="479.30" x2="986.90" y2="483.10" stroke="#b4b4b4" stroke-width="1.1"/>
<text transform="translate(986.90,492.10) scale(0.86,1)" font-size="9.9" text-anchor="middle" fill="#d2d2d2" stroke="#d2d2d2" stroke-width="0.22">100</text>
<text x="9.00" y="389.60" font-size="12" text-anchor="start" fill="#ececec" >Current Reading:</text>
<text x="9.00" y="412.30" font-size="14.8" text-anchor="start" fill="#f2f2f2" >x: 0,3333</text>
<text x="9.00" y="435.90" font-size="14.8" text-anchor="start" fill="#f2f2f2" >y: 0,3333</text>
<text x="9.00" y="461.10" font-size="14.8" text-anchor="start" fill="#f2f2f2" >fL: 0</text>
<text x="9.00" y="485.80" font-size="14.8" text-anchor="start" fill="#f2f2f2" textLength="58.5" lengthAdjust="spacingAndGlyphs">cd/m²: 0</text>
<defs><linearGradient id="hdr" x1="0" y1="0" x2="0" y2="1"><stop offset="0" stop-color="#2e2e2e"/><stop offset="0.45" stop-color="#2a2a2a"/><stop offset="0.55" stop-color="#161616"/><stop offset="1" stop-color="#111"/></linearGradient></defs>
<rect x="148.30" y="369.00" width="8.00" height="109.30" fill="#262626" />
<rect x="148.30" y="369.00" width="8.00" height="16.20" fill="#050505" />
<rect x="156.20" y="369.00" width="409.80" height="16.20" fill="url(#hdr)" />
<clipPath id="tc"><rect x="156" y="360" width="410" height="130"/></clipPath><g clip-path="url(#tc)">
<text x="224.50" y="381.00" font-size="9.5" text-anchor="start" fill="#ececec" textLength="5.1" lengthAdjust="spacingAndGlyphs">0</text>
<text x="253.40" y="381.00" font-size="9.5" text-anchor="start" fill="#ececec" textLength="10.2" lengthAdjust="spacingAndGlyphs">10</text>
<text x="282.80" y="381.00" font-size="9.5" text-anchor="start" fill="#ececec" textLength="10.2" lengthAdjust="spacingAndGlyphs">20</text>
<text x="311.50" y="381.00" font-size="9.5" text-anchor="start" fill="#ececec" textLength="10.2" lengthAdjust="spacingAndGlyphs">30</text>
<text x="345.20" y="381.00" font-size="9.5" text-anchor="start" fill="#ececec" textLength="10.2" lengthAdjust="spacingAndGlyphs">40</text>
<text x="379.50" y="381.00" font-size="9.5" text-anchor="start" fill="#ececec" textLength="10.2" lengthAdjust="spacingAndGlyphs">50</text>
<text x="413.70" y="381.00" font-size="9.5" text-anchor="start" fill="#ececec" textLength="10.2" lengthAdjust="spacingAndGlyphs">60</text>
<text x="453.50" y="381.00" font-size="9.5" text-anchor="start" fill="#ececec" textLength="10.2" lengthAdjust="spacingAndGlyphs">70</text>
<text x="492.80" y="381.00" font-size="9.5" text-anchor="start" fill="#ececec" textLength="10.2" lengthAdjust="spacingAndGlyphs">80</text>
<text x="532.40" y="381.00" font-size="9.5" text-anchor="start" fill="#ececec" textLength="10.2" lengthAdjust="spacingAndGlyphs">90</text>
<rect x="156.20" y="385.20" width="409.80" height="15.50" fill="#3e3e3e" />
<text x="159.00" y="397.90" font-size="10.3" text-anchor="start" fill="#e8e8e8" textLength="6.0" lengthAdjust="spacingAndGlyphs">Y</text>
<text x="224.50" y="397.90" font-size="10.3" text-anchor="start" fill="#e8e8e8" textLength="23.7" lengthAdjust="spacingAndGlyphs">0,000</text>
<text x="253.40" y="397.90" font-size="10.3" text-anchor="start" fill="#e8e8e8" textLength="23.7" lengthAdjust="spacingAndGlyphs">0,375</text>
<text x="282.80" y="397.90" font-size="10.3" text-anchor="start" fill="#e8e8e8" textLength="23.7" lengthAdjust="spacingAndGlyphs">2,377</text>
<text x="311.50" y="397.90" font-size="10.3" text-anchor="start" fill="#e8e8e8" textLength="23.7" lengthAdjust="spacingAndGlyphs">9,352</text>
<text x="345.20" y="397.90" font-size="10.3" text-anchor="start" fill="#e8e8e8" textLength="29.0" lengthAdjust="spacingAndGlyphs">29,599</text>
<text x="379.50" y="397.90" font-size="10.3" text-anchor="start" fill="#e8e8e8" textLength="29.0" lengthAdjust="spacingAndGlyphs">89,454</text>
<text x="413.70" y="397.90" font-size="10.3" text-anchor="start" fill="#e8e8e8" textLength="34.4" lengthAdjust="spacingAndGlyphs">215,057</text>
<text x="453.50" y="397.90" font-size="10.3" text-anchor="start" fill="#e8e8e8" textLength="34.4" lengthAdjust="spacingAndGlyphs">512,323</text>
<text x="492.80" y="397.90" font-size="10.3" text-anchor="start" fill="#e8e8e8" textLength="34.4" lengthAdjust="spacingAndGlyphs">849,678</text>
<text x="532.40" y="397.90" font-size="10.3" text-anchor="start" fill="#e8e8e8" textLength="34.4" lengthAdjust="spacingAndGlyphs">853,122</text>
<rect x="156.20" y="400.70" width="409.80" height="15.60" fill="#7c7c7c" />
<text x="159.00" y="413.40" font-size="10.3" text-anchor="start" fill="#e8e8e8" textLength="34.7" lengthAdjust="spacingAndGlyphs">x: CIE31</text>
<text x="224.50" y="413.40" font-size="10.3" text-anchor="start" fill="#e8e8e8" textLength="23.7" lengthAdjust="spacingAndGlyphs">0,333</text>
<text x="253.40" y="413.40" font-size="10.3" text-anchor="start" fill="#e8e8e8" textLength="23.7" lengthAdjust="spacingAndGlyphs">0,283</text>
<text x="282.80" y="413.40" font-size="10.3" text-anchor="start" fill="#e8e8e8" textLength="23.7" lengthAdjust="spacingAndGlyphs">0,312</text>
<text x="311.50" y="413.40" font-size="10.3" text-anchor="start" fill="#e8e8e8" textLength="23.7" lengthAdjust="spacingAndGlyphs">0,310</text>
<text x="345.20" y="413.40" font-size="10.3" text-anchor="start" fill="#e8e8e8" textLength="23.7" lengthAdjust="spacingAndGlyphs">0,313</text>
<text x="379.50" y="413.40" font-size="10.3" text-anchor="start" fill="#e8e8e8" textLength="23.7" lengthAdjust="spacingAndGlyphs">0,314</text>
<text x="413.70" y="413.40" font-size="10.3" text-anchor="start" fill="#e8e8e8" textLength="23.7" lengthAdjust="spacingAndGlyphs">0,313</text>
<text x="453.50" y="413.40" font-size="10.3" text-anchor="start" fill="#e8e8e8" textLength="23.7" lengthAdjust="spacingAndGlyphs">0,313</text>
<text x="492.80" y="413.40" font-size="10.3" text-anchor="start" fill="#e8e8e8" textLength="23.7" lengthAdjust="spacingAndGlyphs">0,311</text>
<text x="532.40" y="413.40" font-size="10.3" text-anchor="start" fill="#e8e8e8" textLength="23.7" lengthAdjust="spacingAndGlyphs">0,311</text>
<rect x="156.20" y="416.30" width="409.80" height="15.70" fill="#3e3e3e" />
<text x="159.00" y="429.00" font-size="10.3" text-anchor="start" fill="#e8e8e8" textLength="34.7" lengthAdjust="spacingAndGlyphs">y: CIE31</text>
<text x="224.50" y="429.00" font-size="10.3" text-anchor="start" fill="#e8e8e8" textLength="23.7" lengthAdjust="spacingAndGlyphs">0,333</text>
<text x="253.40" y="429.00" font-size="10.3" text-anchor="start" fill="#e8e8e8" textLength="23.7" lengthAdjust="spacingAndGlyphs">0,301</text>
<text x="282.80" y="429.00" font-size="10.3" text-anchor="start" fill="#e8e8e8" textLength="23.7" lengthAdjust="spacingAndGlyphs">0,324</text>
<text x="311.50" y="429.00" font-size="10.3" text-anchor="start" fill="#e8e8e8" textLength="23.7" lengthAdjust="spacingAndGlyphs">0,323</text>
<text x="345.20" y="429.00" font-size="10.3" text-anchor="start" fill="#e8e8e8" textLength="23.7" lengthAdjust="spacingAndGlyphs">0,325</text>
<text x="379.50" y="429.00" font-size="10.3" text-anchor="start" fill="#e8e8e8" textLength="23.7" lengthAdjust="spacingAndGlyphs">0,329</text>
<text x="413.70" y="429.00" font-size="10.3" text-anchor="start" fill="#e8e8e8" textLength="23.7" lengthAdjust="spacingAndGlyphs">0,327</text>
<text x="453.50" y="429.00" font-size="10.3" text-anchor="start" fill="#e8e8e8" textLength="23.7" lengthAdjust="spacingAndGlyphs">0,326</text>
<text x="492.80" y="429.00" font-size="10.3" text-anchor="start" fill="#e8e8e8" textLength="23.7" lengthAdjust="spacingAndGlyphs">0,325</text>
<text x="532.40" y="429.00" font-size="10.3" text-anchor="start" fill="#e8e8e8" textLength="23.7" lengthAdjust="spacingAndGlyphs">0,325</text>
<rect x="156.20" y="432.00" width="409.80" height="15.80" fill="#7c7c7c" />
<text x="159.00" y="444.70" font-size="10.3" text-anchor="start" fill="#e8e8e8" textLength="33.5" lengthAdjust="spacingAndGlyphs">Target Y</text>
<text x="224.50" y="444.70" font-size="10.3" text-anchor="start" fill="#e8e8e8" textLength="23.7" lengthAdjust="spacingAndGlyphs">0,000</text>
<text x="253.40" y="444.70" font-size="10.3" text-anchor="start" fill="#e8e8e8" textLength="23.7" lengthAdjust="spacingAndGlyphs">0,328</text>
<text x="282.80" y="444.70" font-size="10.3" text-anchor="start" fill="#e8e8e8" textLength="23.7" lengthAdjust="spacingAndGlyphs">2,465</text>
<text x="311.50" y="444.70" font-size="10.3" text-anchor="start" fill="#e8e8e8" textLength="29.0" lengthAdjust="spacingAndGlyphs">10,214</text>
<text x="345.20" y="444.70" font-size="10.3" text-anchor="start" fill="#e8e8e8" textLength="29.0" lengthAdjust="spacingAndGlyphs">33,104</text>
<text x="379.50" y="444.70" font-size="10.3" text-anchor="start" fill="#e8e8e8" textLength="29.0" lengthAdjust="spacingAndGlyphs">94,378</text>
<text x="413.70" y="444.70" font-size="10.3" text-anchor="start" fill="#e8e8e8" textLength="34.4" lengthAdjust="spacingAndGlyphs">239,811</text>
<text x="453.50" y="444.70" font-size="10.3" text-anchor="start" fill="#e8e8e8" textLength="34.4" lengthAdjust="spacingAndGlyphs">613,080</text>
<text x="492.80" y="444.70" font-size="10.3" text-anchor="start" fill="#e8e8e8" textLength="34.4" lengthAdjust="spacingAndGlyphs">849,258</text>
<text x="532.40" y="444.70" font-size="10.3" text-anchor="start" fill="#e8e8e8" textLength="34.4" lengthAdjust="spacingAndGlyphs">849,258</text>
<rect x="156.20" y="447.80" width="409.80" height="15.20" fill="#3e3e3e" />
<text x="159.00" y="460.50" font-size="10.3" text-anchor="start" fill="#e8e8e8" textLength="59.9" lengthAdjust="spacingAndGlyphs">Target x:CIE31</text>
<text x="224.50" y="460.50" font-size="10.3" text-anchor="start" fill="#e8e8e8" textLength="23.7" lengthAdjust="spacingAndGlyphs">0,313</text>
<text x="253.40" y="460.50" font-size="10.3" text-anchor="start" fill="#e8e8e8" textLength="23.7" lengthAdjust="spacingAndGlyphs">0,313</text>
<text x="282.80" y="460.50" font-size="10.3" text-anchor="start" fill="#e8e8e8" textLength="23.7" lengthAdjust="spacingAndGlyphs">0,313</text>
<text x="311.50" y="460.50" font-size="10.3" text-anchor="start" fill="#e8e8e8" textLength="23.7" lengthAdjust="spacingAndGlyphs">0,313</text>
<text x="345.20" y="460.50" font-size="10.3" text-anchor="start" fill="#e8e8e8" textLength="23.7" lengthAdjust="spacingAndGlyphs">0,313</text>
<text x="379.50" y="460.50" font-size="10.3" text-anchor="start" fill="#e8e8e8" textLength="23.7" lengthAdjust="spacingAndGlyphs">0,313</text>
<text x="413.70" y="460.50" font-size="10.3" text-anchor="start" fill="#e8e8e8" textLength="23.7" lengthAdjust="spacingAndGlyphs">0,313</text>
<text x="453.50" y="460.50" font-size="10.3" text-anchor="start" fill="#e8e8e8" textLength="23.7" lengthAdjust="spacingAndGlyphs">0,313</text>
<text x="492.80" y="460.50" font-size="10.3" text-anchor="start" fill="#e8e8e8" textLength="23.7" lengthAdjust="spacingAndGlyphs">0,313</text>
<text x="532.40" y="460.50" font-size="10.3" text-anchor="start" fill="#e8e8e8" textLength="23.7" lengthAdjust="spacingAndGlyphs">0,313</text>
<rect x="156.20" y="463.00" width="409.80" height="15.30" fill="#7c7c7c" />
<text x="159.00" y="475.70" font-size="10.3" text-anchor="start" fill="#e8e8e8" textLength="59.9" lengthAdjust="spacingAndGlyphs">Target y:CIE31</text>
<text x="224.50" y="475.70" font-size="10.3" text-anchor="start" fill="#e8e8e8" textLength="23.7" lengthAdjust="spacingAndGlyphs">0,329</text>
<text x="253.40" y="475.70" font-size="10.3" text-anchor="start" fill="#e8e8e8" textLength="23.7" lengthAdjust="spacingAndGlyphs">0,329</text>
<text x="282.80" y="475.70" font-size="10.3" text-anchor="start" fill="#e8e8e8" textLength="23.7" lengthAdjust="spacingAndGlyphs">0,329</text>
<text x="311.50" y="475.70" font-size="10.3" text-anchor="start" fill="#e8e8e8" textLength="23.7" lengthAdjust="spacingAndGlyphs">0,329</text>
<text x="345.20" y="475.70" font-size="10.3" text-anchor="start" fill="#e8e8e8" textLength="23.7" lengthAdjust="spacingAndGlyphs">0,329</text>
<text x="379.50" y="475.70" font-size="10.3" text-anchor="start" fill="#e8e8e8" textLength="23.7" lengthAdjust="spacingAndGlyphs">0,329</text>
<text x="413.70" y="475.70" font-size="10.3" text-anchor="start" fill="#e8e8e8" textLength="23.7" lengthAdjust="spacingAndGlyphs">0,329</text>
<text x="453.50" y="475.70" font-size="10.3" text-anchor="start" fill="#e8e8e8" textLength="23.7" lengthAdjust="spacingAndGlyphs">0,329</text>
<text x="492.80" y="475.70" font-size="10.3" text-anchor="start" fill="#e8e8e8" textLength="23.7" lengthAdjust="spacingAndGlyphs">0,329</text>
<text x="532.40" y="475.70" font-size="10.3" text-anchor="start" fill="#e8e8e8" textLength="23.7" lengthAdjust="spacingAndGlyphs">0,329</text>
</g>
<rect x="156.20" y="478.30" width="409.80" height="9.80" fill="#585858" />
<rect x="166.30" y="479.50" width="353.00" height="7.20" fill="#3d3d3d" rx="3.6"/>
<rect x="156.50" y="478.30" width="9.00" height="9.60" fill="#7a7a7a" />
<path d="M159.2,483.1 L162.6,480.7 L162.6,485.5 Z" fill="#2a2a2a"/>
<rect x="557.00" y="478.30" width="8.80" height="9.60" fill="#6c6c6c" />
<path d="M563.2,483.1 L559.8,480.7 L559.8,485.5 Z" fill="#2a2a2a"/>
<rect x="998.00" y="0.00" width="2.00" height="517.00" fill="#2a2a2a" />
<rect x="0.00" y="0.00" width="1.50" height="517.00" fill="#2e2e2e" />
</svg></body></html>
